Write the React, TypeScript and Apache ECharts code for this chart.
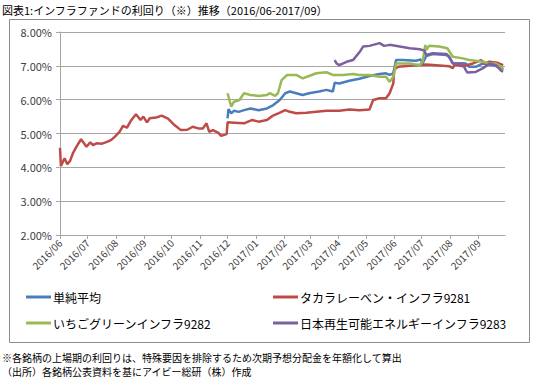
import React, { useEffect, useRef } from "react";
import * as echarts from "echarts";

// ---- data (percent) ----
const seriesNames = [
  "単純平均",
  "タカラレーベン・インフラ9281",
  "いちごグリーンインフラ9282",
  "日本再生可能エネルギーインフラ9283",
];
const seriesColors = ["#4a7ebb", "#be4b48", "#98b954", "#7d60a0"];

const averageData: [string, number][] = [
  ["2016-12-01", 5.45], ["2016-12-02", 5.72], ["2016-12-05", 5.6], ["2016-12-08", 5.67],
  ["2016-12-13", 5.64], ["2016-12-19", 5.69], ["2016-12-26", 5.74], ["2017-01-04", 5.69],
  ["2017-01-13", 5.74], ["2017-01-20", 5.84], ["2017-01-27", 5.99], ["2017-02-02", 6.19],
  ["2017-02-07", 6.24], ["2017-02-14", 6.19], ["2017-02-21", 6.14], ["2017-02-28", 6.19],
  ["2017-03-11", 6.24], ["2017-03-19", 6.29], ["2017-03-26", 6.24], ["2017-03-28", 6.5],
  ["2017-04-02", 6.48], ["2017-04-13", 6.56], ["2017-04-24", 6.62], ["2017-05-05", 6.7],
  ["2017-05-16", 6.76], ["2017-05-23", 6.78], ["2017-05-27", 6.73], ["2017-05-31", 6.78],
  ["2017-06-03", 7.17], ["2017-06-10", 7.17], ["2017-06-25", 7.15], ["2017-06-30", 7.19],
  ["2017-07-02", 7.07], ["2017-07-06", 7.29], ["2017-07-13", 7.35], ["2017-07-28", 7.32],
  ["2017-07-31", 7.26], ["2017-08-04", 7.07], ["2017-08-18", 7.07], ["2017-08-22", 6.97],
  ["2017-08-29", 6.97], ["2017-09-06", 7.07], ["2017-09-17", 7.02], ["2017-09-26", 6.93],
  ["2017-09-28", 6.88],
];

const takaraData: [string, number][] = [
  ["2016-06-01", 4.58], ["2016-06-02", 4.04], ["2016-06-06", 4.27], ["2016-06-09", 4.09],
  ["2016-06-12", 4.19], ["2016-06-15", 4.41], ["2016-06-19", 4.61], ["2016-06-24", 4.83],
  ["2016-06-30", 4.61], ["2016-07-04", 4.74], ["2016-07-07", 4.66], ["2016-07-11", 4.71],
  ["2016-07-17", 4.7], ["2016-07-23", 4.76], ["2016-07-27", 4.81], ["2016-07-31", 4.91],
  ["2016-08-05", 5.05], ["2016-08-09", 5.23], ["2016-08-13", 5.17], ["2016-08-18", 5.4],
  ["2016-08-23", 5.57], ["2016-08-28", 5.4], ["2016-08-31", 5.5], ["2016-09-04", 5.33],
  ["2016-09-07", 5.45], ["2016-09-14", 5.47], ["2016-09-20", 5.53], ["2016-09-27", 5.44],
  ["2016-10-04", 5.25], ["2016-10-11", 5.1], ["2016-10-18", 5.11], ["2016-10-24", 5.2],
  ["2016-10-30", 5.15], ["2016-11-04", 5.15], ["2016-11-08", 5.3], ["2016-11-11", 5.05],
  ["2016-11-15", 5.1], ["2016-11-21", 5.02], ["2016-11-24", 4.93], ["2016-11-30", 4.98],
  ["2016-12-01", 5.33], ["2016-12-08", 5.32], ["2016-12-19", 5.3], ["2016-12-28", 5.4],
  ["2017-01-04", 5.35], ["2017-01-13", 5.4], ["2017-01-19", 5.52], ["2017-01-26", 5.6],
  ["2017-02-02", 5.69], ["2017-02-07", 5.64], ["2017-02-14", 5.6], ["2017-02-25", 5.61],
  ["2017-03-08", 5.64], ["2017-03-19", 5.67], ["2017-04-02", 5.67], ["2017-04-13", 5.71],
  ["2017-04-24", 5.69], ["2017-05-05", 5.71], ["2017-05-09", 5.99], ["2017-05-16", 6.04],
  ["2017-05-23", 6.04], ["2017-05-27", 6.19], ["2017-05-31", 6.48], ["2017-06-01", 6.88],
  ["2017-06-05", 6.97], ["2017-06-25", 7.02], ["2017-07-06", 7.04], ["2017-07-17", 7.02],
  ["2017-07-31", 6.99], ["2017-08-04", 6.93], ["2017-08-06", 7.04], ["2017-08-15", 6.99],
  ["2017-08-26", 7.07], ["2017-09-04", 7.17], ["2017-09-08", 7.07], ["2017-09-13", 7.12],
  ["2017-09-22", 7.09], ["2017-09-28", 7.02],
];

const ichigoData: [string, number][] = [
  ["2016-12-01", 6.19], ["2016-12-05", 5.79], ["2016-12-08", 5.94], ["2016-12-14", 5.99],
  ["2016-12-19", 6.19], ["2016-12-26", 6.14], ["2017-01-04", 6.11], ["2017-01-13", 6.14],
  ["2017-01-16", 6.19], ["2017-01-22", 6.11], ["2017-01-25", 6.19], ["2017-01-29", 6.58],
  ["2017-02-04", 6.73], ["2017-02-14", 6.73], ["2017-02-21", 6.63], ["2017-02-28", 6.7],
  ["2017-03-08", 6.78], ["2017-03-19", 6.81], ["2017-03-26", 6.73], ["2017-04-06", 6.73],
  ["2017-04-17", 6.76], ["2017-04-24", 6.73], ["2017-05-05", 6.73], ["2017-05-16", 6.68],
  ["2017-05-23", 6.68], ["2017-05-27", 6.53], ["2017-05-31", 6.68], ["2017-06-03", 7.07],
  ["2017-06-18", 7.07], ["2017-06-29", 7.02], ["2017-07-02", 7.12], ["2017-07-05", 7.62],
  ["2017-07-06", 7.47], ["2017-07-09", 7.59], ["2017-07-20", 7.57], ["2017-07-29", 7.52],
  ["2017-08-04", 7.27], ["2017-08-15", 7.22], ["2017-08-22", 7.17], ["2017-08-29", 7.15],
  ["2017-09-06", 7.12], ["2017-09-13", 7.07], ["2017-09-20", 7.07], ["2017-09-26", 6.97],
  ["2017-09-28", 6.9],
];

const jreData: [string, number][] = [
  ["2017-03-28", 7.17], ["2017-03-30", 7.07], ["2017-04-02", 7.02], ["2017-04-10", 7.12],
  ["2017-04-17", 7.17], ["2017-04-24", 7.4], ["2017-04-28", 7.57], ["2017-05-05", 7.59],
  ["2017-05-16", 7.67], ["2017-05-21", 7.59], ["2017-05-27", 7.62], ["2017-06-07", 7.57],
  ["2017-06-18", 7.52], ["2017-06-29", 7.49], ["2017-07-04", 7.45], ["2017-07-06", 7.32],
  ["2017-07-13", 7.37], ["2017-07-28", 7.35], ["2017-07-31", 7.27], ["2017-08-04", 7.07],
  ["2017-08-15", 7.07], ["2017-08-18", 6.88], ["2017-08-20", 6.8], ["2017-08-29", 6.82],
  ["2017-09-06", 6.93], ["2017-09-13", 7.07], ["2017-09-20", 7.02], ["2017-09-26", 6.85],
  ["2017-09-28", 6.83],
];

const allData = [averageData, takaraData, ichigoData, jreData];

const axisStart = "2016-06-01";
const axisEnd = "2017-09-30";
const yMin = 2;
const yMax = 8;
const yStep = 1;

const titleText = "図表1:インフラファンドの利回り（※）推移（2016/06-2017/09）";
const noteText1 = "※各銘柄の上場期の利回りは、特殊要因を排除するため次期予想分配金を年額化して算出";
const noteText2 = "（出所）各銘柄公表資料を基にアイビー総研（株）作成";

function buildDays(start: string, end: string): string[] {
  const out: string[] = [];
  const d = new Date(start + "T00:00:00Z");
  const e = new Date(end + "T00:00:00Z");
  while (d.getTime() <= e.getTime()) {
    out.push(d.toISOString().slice(0, 10));
    d.setUTCDate(d.getUTCDate() + 1);
  }
  return out;
}

const FONT = "'Noto Sans CJK JP', sans-serif";

export default function App() {
  const ref = useRef<HTMLDivElement>(null);
  useEffect(() => {
    if (!ref.current) return;
    const chart = echarts.init(ref.current, undefined, { renderer: "svg" });
    const days = buildDays(axisStart, axisEnd);
    const isMonthStart = (_i: number, v: string) => v.endsWith("-01");
    const legendPos = [
      { left: 26, top: 291 },
      { left: 273, top: 291 },
      { left: 26, top: 317 },
      { left: 273, top: 317 },
    ];
    chart.setOption({
      animation: false,
      backgroundColor: "#ffffff",
      textStyle: { fontFamily: FONT },
      grid: { left: 60, top: 32, width: 445, height: 203, containLabel: false },
      xAxis: {
        type: "category",
        data: days,
        boundaryGap: false,
        axisLine: { lineStyle: { color: "#a6a6a6", width: 1 } },
        axisTick: { show: true, interval: isMonthStart, length: 4, lineStyle: { color: "#a6a6a6" } },
        axisLabel: {
          interval: isMonthStart,
          rotate: 45,
          fontSize: 10,
          color: "#404040",
          margin: 6,
          formatter: (v: string) => v.slice(0, 7).replace("-", "/"),
        },
        splitLine: { show: false },
      },
      yAxis: {
        type: "value",
        min: yMin,
        max: yMax,
        interval: yStep,
        axisLine: { show: true, lineStyle: { color: "#a6a6a6" } },
        axisTick: { show: true, length: 4, lineStyle: { color: "#a6a6a6" } },
        axisLabel: {
          fontSize: 11,
          color: "#404040",
          margin: 8,
          formatter: (v: number) => v.toFixed(2) + "%",
        },
        splitLine: { show: true, lineStyle: { color: "#a6a6a6", width: 1 } },
      },
      legend: seriesNames.map((n, i) => ({
        data: [n],
        left: legendPos[i].left,
        top: legendPos[i].top,
        padding: 0,
        icon: "rect",
        itemWidth: 25,
        itemHeight: 3,
        selectedMode: false,
        textStyle: { fontSize: 12, color: "#000", fontFamily: FONT, padding: [0, 0, 0, -3] },
      })),
      series: seriesNames.map((n, i) => ({
        name: n,
        type: "line",
        data: allData[i],
        symbol: "none",
        color: seriesColors[i],
        lineStyle: { width: 2.5, color: seriesColors[i] },
        z: 2 + i,
      })),
      graphic: [
        {
          type: "rect",
          shape: { x: 9.5, y: 19.5, width: 520, height: 323 },
          style: { fill: "none", stroke: "#8c8c8c", lineWidth: 1 },
          silent: true,
        },
        {
          type: "text",
          x: 2,
          y: 10,
          style: { text: titleText, fontSize: 11, fill: "#000", fontFamily: FONT, verticalAlign: "middle" },
        },
        {
          type: "text",
          x: 2,
          y: 357,
          style: { text: noteText1, fontSize: 10, fill: "#000", fontFamily: FONT, verticalAlign: "middle" },
        },
        {
          type: "text",
          x: 2,
          y: 371,
          style: { text: noteText2, fontSize: 10, fill: "#000", fontFamily: FONT, verticalAlign: "middle" },
        },
      ],
    });
    return () => chart.dispose();
  }, []);
  return (
    <div
      ref={ref}
      style={{ position: "absolute", left: 0, top: 0, width: 540, height: 378, background: "#fff" }}
    />
  );
}
